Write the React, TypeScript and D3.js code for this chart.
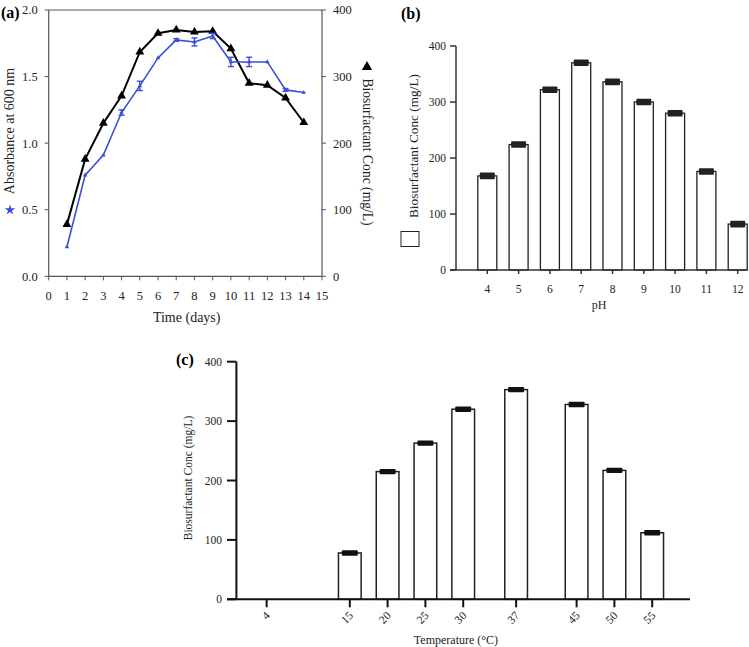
import React from "react";
import * as d3 from "d3";

// Panel (a) data
const days = [1, 2, 3, 4, 5, 6, 7, 8, 9, 10, 11, 12, 13, 14];
const absorbance = [0.22, 0.76, 0.91, 1.23, 1.43, 1.64, 1.775, 1.76, 1.805, 1.61, 1.61, 1.61, 1.4, 1.38];
const absorbanceErr = [0, 0, 0, 0.02, 0.035, 0, 0.01, 0.03, 0.02, 0.035, 0.035, 0, 0.01, 0];
const bioConcTime = [78, 176, 230, 271, 337, 365, 370, 367, 368, 342, 290, 287, 268, 231];
const dayTicks = [0, 1, 2, 3, 4, 5, 6, 7, 8, 9, 10, 11, 12, 13, 14, 15];
const absTicks = [0, 0.5, 1.0, 1.5, 2.0];
const concTicks = [0, 100, 200, 300, 400];

// Panel (b) data
const pHs = [4, 5, 6, 7, 8, 9, 10, 11, 12];
const bioConcPH = [168, 224, 322, 370, 336, 300, 280, 176, 82];

// Panel (c) data
const temps = [4, 15, 20, 25, 30, 37, 45, 50, 55];
const bioConcTemp = [0, 78, 215, 263, 320, 353, 328, 217, 112];

const FONT = "'Liberation Serif', 'Times New Roman', serif";
const BLUE = "#3a4fd6";

export default function App() {
  // ---------- Panel (a) ----------
  const xA = d3.scaleLinear().domain([0, 15]).range([48.7, 322]);
  const yA = d3.scaleLinear().domain([0, 2]).range([276.3, 10]);
  const yA2 = d3.scaleLinear().domain([0, 400]).range([276.3, 10]);
  const lineAbs = d3.line<number>().x((_, i) => xA(days[i])).y((d) => yA(d));
  const lineConc = d3.line<number>().x((_, i) => xA(days[i])).y((d) => yA2(d));
  const triBig = d3.symbol().type(d3.symbolTriangle).size(34)();
  const triSmall = d3.symbol().type(d3.symbolTriangle).size(9)();
  const triLegend = d3.symbol().type(d3.symbolTriangle).size(46)();
  const star = d3.symbol().type(d3.symbolStar).size(34)();
  const axA = "#555";

  // ---------- Panel (b) ----------
  const xB = d3.scaleLinear().domain([3, 12]).range([456, 737.7]);
  const yB = d3.scaleLinear().domain([0, 400]).range([270, 46]);
  const barWB = 19;
  const axB = "#333";

  // ---------- Panel (c) ----------
  const xC = d3.scaleLinear().domain([0, 60]).range([236.4, 690]);
  const yC = d3.scaleLinear().domain([0, 400]).range([599.3, 361.7]);
  const barWC = xC(3) - xC(0);

  return (
    <svg width={749} height={647} style={{ position: "absolute", left: 0, top: 0, background: "#fff" }} fontFamily={FONT}>
      <rect x={0} y={0} width={749} height={647} fill="#fff" />
      {/* ===== Panel (a) ===== */}
      <text x={1} y={18} fontSize={16} fontWeight="bold">(a)</text>
      {/* frame */}
      <line x1={xA(0)} x2={xA(15)} y1={yA(2)} y2={yA(2)} stroke={axA} strokeWidth={1} />
      <line x1={xA(0)} x2={xA(15)} y1={yA(0)} y2={yA(0)} stroke={axA} strokeWidth={1.2} />
      <line x1={xA(0)} x2={xA(0)} y1={yA(0)} y2={yA(2)} stroke={axA} strokeWidth={1.2} />
      <line x1={xA(15)} x2={xA(15)} y1={yA(0)} y2={yA(2)} stroke={axA} strokeWidth={1.2} />
      {absTicks.map((t) => (
        <g key={"la" + t}>
          <line x1={xA(0) - 4} x2={xA(0)} y1={yA(t)} y2={yA(t)} stroke={axA} />
          <text x={xA(0) - 11} y={yA(t)} dy="0.35em" fontSize={12.5} textAnchor="end" fill="#222">
            {t.toFixed(1)}
          </text>
        </g>
      ))}
      {concTicks.map((t) => (
        <g key={"ra" + t}>
          <line x1={xA(15)} x2={xA(15) + 4} y1={yA2(t)} y2={yA2(t)} stroke={axA} />
          <text x={xA(15) + 11} y={yA2(t)} dy="0.35em" fontSize={12.5} textAnchor="start" fill="#222">
            {t}
          </text>
        </g>
      ))}
      {dayTicks.map((t) => (
        <g key={"ba" + t}>
          <line x1={xA(t)} x2={xA(t)} y1={yA(0)} y2={yA(0) + 4} stroke={axA} />
          <text x={xA(t)} y={300} fontSize={12.5} textAnchor="middle" fill="#222">
            {t}
          </text>
        </g>
      ))}
      <text x={186.7} y={322} fontSize={14} textAnchor="middle" fill="#222">Time (days)</text>
      <text transform="translate(14,131) rotate(-90)" fontSize={14} textAnchor="middle" fill="#222">
        Absorbance at 600 nm
      </text>
      <path d={star} transform="translate(10,210)" fill={BLUE} />
      <text transform="translate(363,152) rotate(90)" fontSize={13.6} textAnchor="middle" fill="#222">
        Biosurfactant Conc (mg/L)
      </text>
      <path d={triLegend} transform="translate(367,67)" fill="#000" />
      {/* black series */}
      <path d={lineConc(bioConcTime) || ""} fill="none" stroke="#000" strokeWidth={2} />
      {bioConcTime.map((v, i) => (
        <path key={"tb" + i} d={triBig} transform={`translate(${xA(days[i])},${yA2(v)})`} fill="#000" />
      ))}
      {/* blue series */}
      <path d={lineAbs(absorbance) || ""} fill="none" stroke={BLUE} strokeWidth={1.6} />
      {absorbance.map((v, i) => {
        const e = absorbanceErr[i];
        const cx = xA(days[i]);
        return (
          <g key={"ab" + i}>
            {e > 0 && (
              <g stroke={BLUE} strokeWidth={1.4}>
                <line x1={cx} x2={cx} y1={yA(v - e)} y2={yA(v + e)} />
                <line x1={cx - 3} x2={cx + 3} y1={yA(v - e)} y2={yA(v - e)} />
                <line x1={cx - 3} x2={cx + 3} y1={yA(v + e)} y2={yA(v + e)} />
              </g>
            )}
            <path d={triSmall} transform={`translate(${cx},${yA(v)})`} fill={BLUE} />
          </g>
        );
      })}

      {/* ===== Panel (b) ===== */}
      <text x={401} y={19} fontSize={16} fontWeight="bold">(b)</text>
      {pHs.map((p, i) => {
        const v = bioConcPH[i];
        const cx = xB(p);
        return (
          <g key={"pb" + p}>
            <rect x={cx - barWB / 2} y={yB(v)} width={barWB} height={yB(0) - yB(v)} fill="#fff" stroke="#222" strokeWidth={1.3} />
            <rect x={cx - 7.5} y={yB(v) - 3.3} width={15} height={6.6} rx={1} fill="#222" />
          </g>
        );
      })}
      <line x1={450} x2={747.3} y1={yB(0)} y2={yB(0)} stroke={axB} strokeWidth={1.5} />
      <line x1={456} x2={456} y1={yB(0)} y2={yB(400)} stroke={axB} strokeWidth={1.5} />
      {concTicks.map((t) => (
        <g key={"yb" + t}>
          <line x1={450} x2={456} y1={yB(t)} y2={yB(t)} stroke={axB} strokeWidth={1.5} />
          <text x={446} y={yB(t)} dy="0.35em" fontSize={11.5} textAnchor="end" fill="#222">
            {t}
          </text>
        </g>
      ))}
      {pHs.map((p) => (
        <g key={"xb" + p}>
          <line x1={xB(p)} x2={xB(p)} y1={yB(0)} y2={yB(0) + 4} stroke={axB} strokeWidth={1.5} />
          <text x={xB(p)} y={293} fontSize={11.5} textAnchor="middle" fill="#222">
            {p}
          </text>
        </g>
      ))}
      <text x={599} y={309} fontSize={12} textAnchor="middle" fill="#222">pH</text>
      <text transform="translate(418,146) rotate(-90)" fontSize={13.3} textAnchor="middle" fill="#222">
        Biosurfactant Conc (mg/L)
      </text>
      <rect x={401} y={231.5} width={18} height={15} fill="#fff" stroke="#222" strokeWidth={1} />

      {/* ===== Panel (c) ===== */}
      <text x={176} y={365} fontSize={16} fontWeight="bold">(c)</text>
      {temps.map((t, i) => {
        const v = bioConcTemp[i];
        if (v <= 0) return null;
        const cx = xC(t);
        return (
          <g key={"tc" + t}>
            <rect x={cx - barWC / 2} y={yC(v)} width={barWC} height={yC(0) - yC(v)} fill="#fff" stroke="#222" strokeWidth={1.5} />
            <rect x={cx - 8} y={yC(v) - 2.7} width={16} height={5.4} rx={1} fill="#111" />
          </g>
        );
      })}
      <line x1={227} x2={xC(60)} y1={yC(0)} y2={yC(0)} stroke="#111" strokeWidth={2} />
      <line x1={xC(0)} x2={xC(0)} y1={yC(0)} y2={yC(400)} stroke="#111" strokeWidth={2} />
      {concTicks.map((t) => (
        <g key={"yc" + t}>
          <line x1={227} x2={xC(0)} y1={yC(t)} y2={yC(t)} stroke="#111" strokeWidth={2} />
          <text x={222} y={yC(t)} dy="0.35em" fontSize={11.5} textAnchor="end" fill="#222">
            {t}
          </text>
        </g>
      ))}
      {temps.map((t) => (
        <g key={"xc" + t}>
          <line x1={xC(t)} x2={xC(t)} y1={yC(0)} y2={yC(0) + 8} stroke="#111" strokeWidth={2} />
          <text transform={`translate(${xC(t) + 4},${yC(0) + 17}) rotate(-45)`} fontSize={11.5} textAnchor="end" fill="#222">
            {t}
          </text>
        </g>
      ))}
      <text x={456} y={644} fontSize={12} textAnchor="middle" fill="#222">Temperature (°C)</text>
      <text transform="translate(192,478) rotate(-90)" fontSize={11.5} textAnchor="middle" fill="#222">
        Biosurfactant Conc (mg/L)
      </text>
    </svg>
  );
}
